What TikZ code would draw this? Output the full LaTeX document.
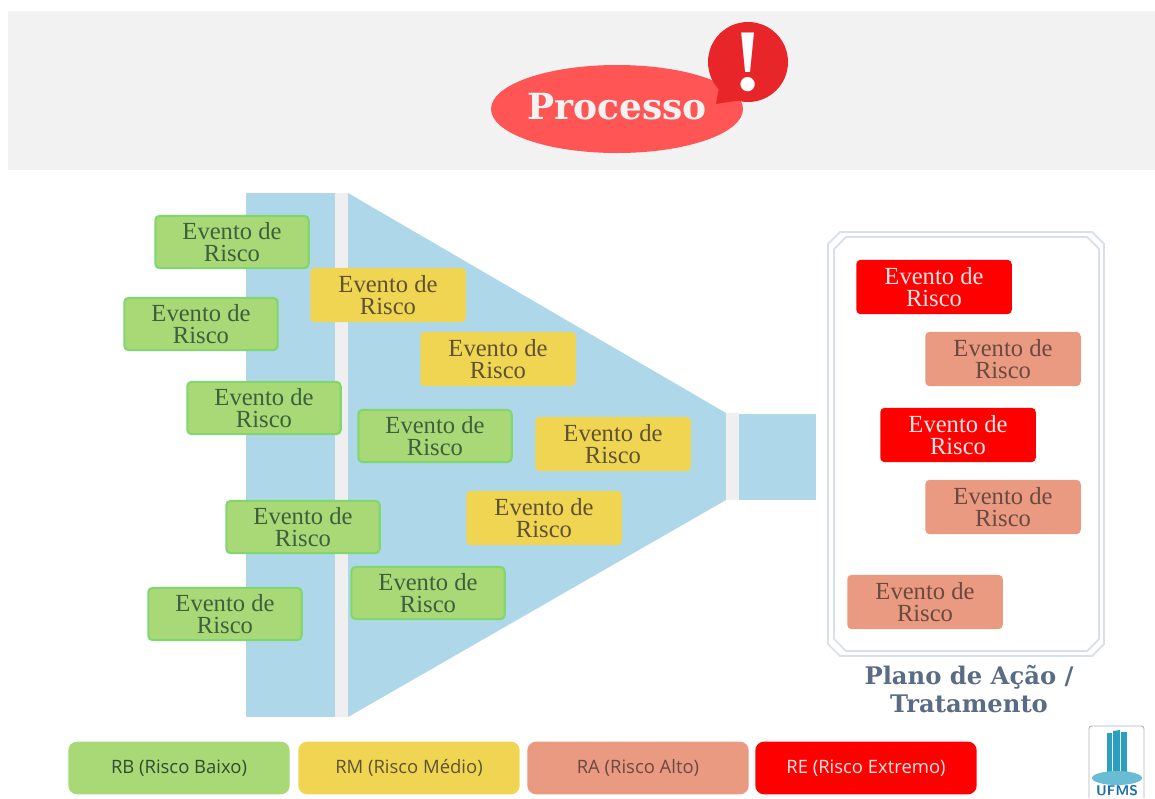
\documentclass[tikz,border=0pt]{standalone}
\usepackage{fontspec}
\setmainfont{Liberation Serif}
\newfontfamily\legendafont{Open Sans}
\newfontfamily\titulofont{DejaVu Serif}
\usetikzlibrary{shapes.geometric}

\definecolor{cinzaclaro}{HTML}{F2F2F2}
\definecolor{funil}{HTML}{AED8E9}
\definecolor{faixa}{HTML}{EFEFEF}
\definecolor{verde}{HTML}{A9D877}
\definecolor{verdeborda}{HTML}{80D76F}
\definecolor{verdetexto}{HTML}{3F5F3C}
\definecolor{amarelo}{HTML}{F0D553}
\definecolor{amarelotexto}{HTML}{5E5232}
\definecolor{salmao}{HTML}{EA9A80}
\definecolor{salmaotexto}{HTML}{6A4A40}
\definecolor{vermelho}{HTML}{FE0000}
\definecolor{balao}{HTML}{FF5555}
\definecolor{alerta}{HTML}{E8262A}
\definecolor{moldura}{HTML}{D8DFE8}
\definecolor{plano}{HTML}{5A6B84}
\definecolor{ufmsazul}{HTML}{2A9FC0}
\definecolor{ufmsescuro}{HTML}{1A6FA8}

\tikzset{
    evento/.style={rounded corners=2.5pt, minimum width=88.5pt, minimum height=31pt, inner sep=0pt, align=center, font=\fontsize{14}{12.5}\selectfont},
    rb/.style={evento, fill=verde, draw=verdeborda, line width=1.2pt, minimum width=87.3pt, minimum height=29.8pt, text=verdetexto},
    rm/.style={evento, fill=amarelo, text=amarelotexto},
    ra/.style={evento, fill=salmao, text=salmaotexto},
    re/.style={evento, fill=vermelho, text=white!90!red},
    legenda/.style={rounded corners=5pt, minimum width=126pt, minimum height=30pt, inner sep=0pt, font=\legendafont\fontsize{10.5}{12}\selectfont},
}

\begin{document}
\begin{tikzpicture}[x=0.02cm, y=-0.02cm]
    \useasboundingbox (0,0) rectangle (1155,798);

    % cabecalho
    \fill[cinzaclaro] (8,11) rectangle (1155,170);
    \fill[balao] (617,109) ellipse [x radius=126, y radius=44];
    \fill[alerta] (748,62) circle (40);
    \fill[alerta] (716,104) -- (722,70) -- (755,98) -- cycle;
    \node[text=white!95!black, font=\titulofont\fontsize{20.5}{24}\selectfont\bfseries] (processo) at (617,107) {Processo};
    \node[text=white, font=\fontsize{50}{50}\selectfont\bfseries] (exclamacao) at (748,62) {!};

    % funil
    \fill[funil] (246,193) rectangle (335,717);
    \fill[faixa] (335,193) rectangle (348,717);
    \fill[funil] (348,193) -- (726,413) -- (726,500) -- (348,717) -- cycle;
    \fill[faixa] (726,413) rectangle (739,500);
    \fill[funil] (739,414) rectangle (816,500);

    % riscos baixos
    \node[rb] (rb1) at (232,242) {Evento de\\Risco};
    \node[rb] (rb2) at (201,324) {Evento de\\Risco};
    \node[rb] (rb3) at (264,408) {Evento de\\Risco};
    \node[rb] (rb4) at (435,436) {Evento de\\Risco};
    \node[rb] (rb5) at (303,527) {Evento de\\Risco};
    \node[rb] (rb6) at (225,614) {Evento de\\Risco};
    \node[rb] (rb7) at (428,593) {Evento de\\Risco};

    % riscos medios
    \node[rm] (rm1) at (388,295) {Evento de\\Risco};
    \node[rm] (rm2) at (498,359) {Evento de\\Risco};
    \node[rm] (rm3) at (613,444) {Evento de\\Risco};
    \node[rm] (rm4) at (544,518) {Evento de\\Risco};

    % plano de acao
    \draw[moldura, line width=1pt] (840,232) -- (1092,232) -- (1104,244) -- (1104,644) -- (1092,656) -- (840,656) -- (828,644) -- (828,244) -- cycle;
    \draw[moldura, line width=1pt] (846,237) -- (1087,237) -- (1099,249) -- (1099,639) -- (1087,651) -- (846,651) -- (834,639) -- (834,249) -- cycle;
    \node[re] (re1) at (934,287) {Evento de\\Risco};
    \node[ra] (ra1) at (1003,359) {Evento de\\Risco};
    \node[re] (re2) at (958,435) {Evento de\\Risco};
    \node[ra] (ra2) at (1003,507) {Evento de\\Risco};
    \node[ra] (ra3) at (925,602) {Evento de\\Risco};
    \node[text=plano, align=center, font=\titulofont\fontsize{13.8}{16}\selectfont\bfseries] (tratamento) at (969,689) {Plano de Ação /\\Tratamento};

    % legenda
    \node[legenda, fill=verde, text=verdetexto!80!black] (lrb) at (179,768) {RB (Risco Baixo)};
    \node[legenda, fill=amarelo, text=amarelotexto] (lrm) at (409,768) {RM (Risco Médio)};
    \node[legenda, fill=salmao, text=salmaotexto] (lra) at (638,768) {RA (Risco Alto)};
    \node[legenda, fill=vermelho, text=white!90!red] (lre) at (866,768) {RE (Risco Extremo)};

    % logo
    \draw[moldura!80!black, rounded corners=1.5pt, line width=0.5pt] (1089,798) -- (1089,726) -- (1144,726) -- (1144,798);
    \fill[ufmsazul] (1107,776) -- (1107,733) -- (1112,733) -- (1112,776) -- cycle;
    \fill[ufmsazul] (1113,776) -- (1113,731) -- (1120,730) -- (1120,776) -- cycle;
    \fill[ufmsazul] (1121,776) -- (1121,732) -- (1127,732) -- (1127,776) -- cycle;
    \fill[ufmsazul!70!white] (1117,778) ellipse [x radius=25, y radius=7];
    \node[text=ufmsescuro, font=\sffamily\bfseries\fontsize{8}{8}\selectfont, inner sep=0pt] (ufms) at (1117,791) {UFMS};
\end{tikzpicture}
\end{document}
